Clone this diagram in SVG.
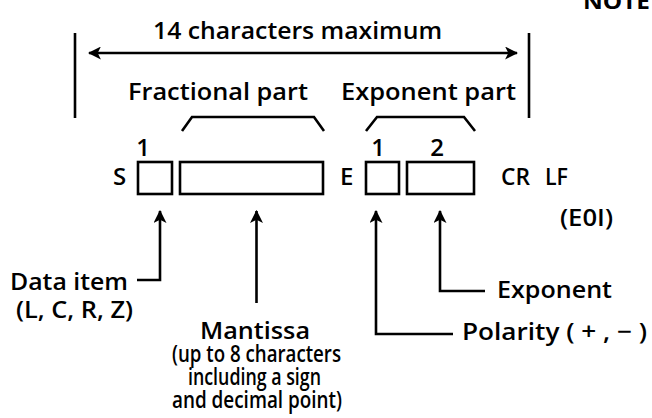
<svg xmlns="http://www.w3.org/2000/svg" width="652" height="418" viewBox="0 0 652 418">
  <defs>
    <marker id="head" viewBox="0 0 12 12" refX="11" refY="6" markerWidth="13" markerHeight="13" markerUnits="userSpaceOnUse" orient="auto-start-reverse">
      <path d="M0,0 L12,6 L0,12 L3,6 Z" fill="#000"/>
    </marker>
    <style>
      text { font-family: "Open Sans", "Noto Sans", "Liberation Sans", sans-serif; font-size: 24px; font-weight: 600; fill: #000; }
      .tight { font-size: 23px; }
      .line { fill: none; stroke: #000; stroke-width: 2.6; stroke-linecap: butt; stroke-linejoin: miter; }
      .box { fill: #fff; stroke: #000; stroke-width: 2.6; }
      .note { font-weight: bold; font-size: 22px; }
    </style>
  </defs>
  <rect width="652" height="418" fill="#fff"/>

  <!-- page heading, running off the top edge -->
  <text class="note" x="583" y="9" textLength="67" lengthAdjust="spacingAndGlyphs">NOTE</text>

  <!-- overall width span -->
  <g id="span">
    <text x="153" y="39" textLength="289" lengthAdjust="spacingAndGlyphs">14 characters maximum</text>
    <line class="line" x1="75" y1="33" x2="75" y2="118"/>
    <line class="line" x1="529" y1="33" x2="529" y2="118"/>
  </g>

  <g id="fractional-part">
    <text x="128" y="100" textLength="180" lengthAdjust="spacingAndGlyphs">Fractional part</text>
    <path class="line" d="M182,131 L192,117 L314,117 L324,131"/>
  </g>

  <g id="exponent-part">
    <text x="341" y="100" textLength="175" lengthAdjust="spacingAndGlyphs">Exponent part</text>
    <path class="line" d="M366,131 L377,117 L464,117 L475,131"/>
  </g>

  <!-- character fields -->
  <g id="sign-field">
    <text x="113" y="185">S</text>
    <text x="143" y="156" text-anchor="middle">1</text>
    <rect class="box" x="138" y="162" width="34" height="32"/>
  </g>
  <g id="mantissa-field">
    <rect class="box" x="180" y="162" width="143" height="32"/>
  </g>
  <g id="exp-letter">
    <text x="340" y="185">E</text>
  </g>
  <g id="exp-sign-field">
    <text x="378" y="156" text-anchor="middle">1</text>
    <rect class="box" x="366" y="162" width="33" height="32"/>
  </g>
  <g id="exp-digits-field">
    <text x="437" y="156" text-anchor="middle">2</text>
    <rect class="box" x="407" y="162" width="67" height="32"/>
  </g>
  <g id="terminator">
    <text x="501" y="185" textLength="29" lengthAdjust="spacingAndGlyphs">CR</text>
    <text x="545" y="185" textLength="23" lengthAdjust="spacingAndGlyphs">LF</text>
    <text x="560" y="226" textLength="53" lengthAdjust="spacingAndGlyphs">(E0I)</text>
  </g>

  <!-- labels -->
  <g id="data-item">
    <text x="10" y="290" textLength="118" lengthAdjust="spacingAndGlyphs">Data item</text>
    <text x="16" y="318" textLength="117" lengthAdjust="spacingAndGlyphs">(L, C, R, Z)</text>
  </g>
  <g id="mantissa">
    <text class="tight" x="200" y="339" textLength="110" lengthAdjust="spacingAndGlyphs">Mantissa</text>
    <text class="tight" x="172" y="362" textLength="169" lengthAdjust="spacingAndGlyphs">(up to 8 characters</text>
    <text class="tight" x="188" y="385" textLength="133" lengthAdjust="spacingAndGlyphs">including a sign</text>
    <text class="tight" x="172" y="408" textLength="170" lengthAdjust="spacingAndGlyphs">and decimal point)</text>
  </g>
  <g id="exponent">
    <text x="497" y="298" textLength="115" lengthAdjust="spacingAndGlyphs">Exponent</text>
  </g>
  <g id="polarity">
    <text x="462" y="340" textLength="185" lengthAdjust="spacingAndGlyphs">Polarity ( + , − )</text>
  </g>

  <!-- connectors -->
  <g id="connectors">
    <line class="line" x1="89" y1="53" x2="517" y2="53" marker-start="url(#head)" marker-end="url(#head)"/>
    <path class="line" d="M137,280 L160,280 L160,211" marker-end="url(#head)"/>
    <path class="line" d="M256.5,303 L256.5,211" marker-end="url(#head)"/>
    <path class="line" d="M453,334 L376,334 L376,211" marker-end="url(#head)"/>
    <path class="line" d="M485,291 L440,291 L440,211" marker-end="url(#head)"/>
  </g>
</svg>
